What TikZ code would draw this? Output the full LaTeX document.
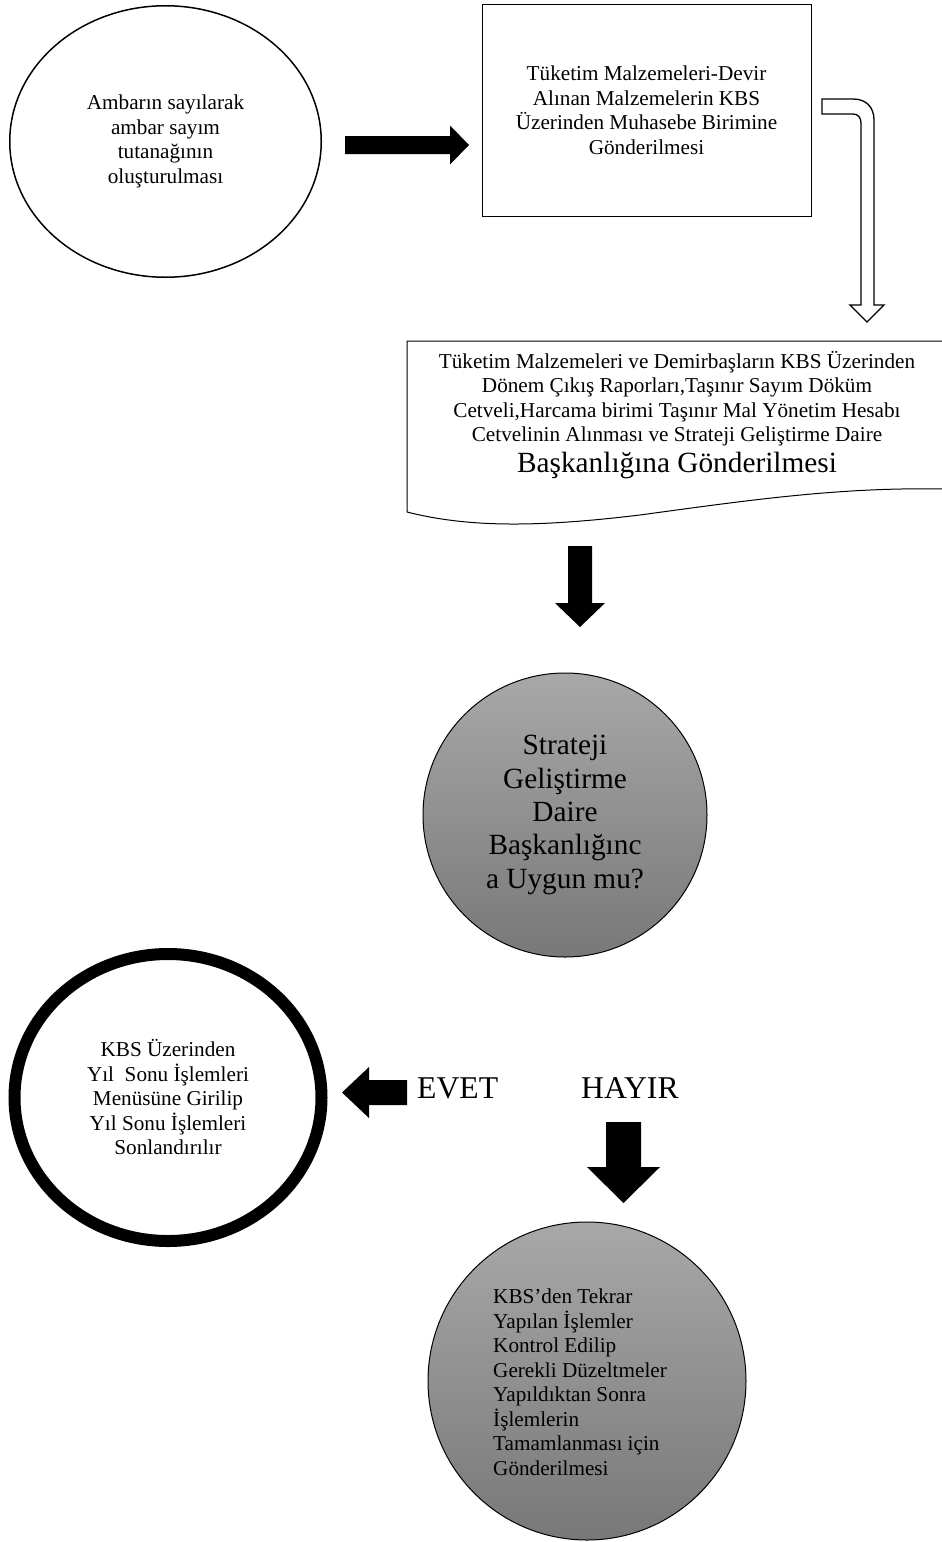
\documentclass[tikz,border=0pt]{standalone}
\usepackage{fontspec}
\setmainfont{Liberation Serif}
\usetikzlibrary{shapes.geometric}
\definecolor{grtop}{HTML}{A8A8A8}
\definecolor{grbot}{HTML}{787878}

\begin{document}
\begin{tikzpicture}[x=1pt, y=-1pt,
  every node/.style = {align=center, inner sep=0pt},
  txt/.style = {font=\fontsize{21.2}{24.5}\selectfont},
  bigtxt/.style = {font=\fontsize{29.3}{33.3}\selectfont},
  yesno/.style = {font=\fontsize{31.7}{36}\selectfont},
  oval/.style = {ellipse, draw, line width=1.5pt},
  thickoval/.style = {ellipse, draw, line width=12pt},
  box/.style = {rectangle, draw, line width=1pt},
  greyball/.style = {circle, draw, line width=1pt, top color=grtop, bottom color=grbot},
  fat/.style = {fill=black},
  hollow/.style = {draw, line width=1.3pt, line join=miter}]
  \useasboundingbox (0,0) rectangle (942,1542);

  % top row
  \node[oval, txt, minimum width=311.5pt, minimum height=271.5pt] (ambar) at (165.5,141.5)
    {Ambarın sayılarak\\ambar sayım\\tutanağının\\oluşturulması};
  \node[box, txt, minimum width=329pt, minimum height=212pt] (muhasebe) at (646.5,110)
    {Tüketim Malzemeleri-Devir\\Alınan Malzemelerin KBS\\Üzerinden Muhasebe Birimine\\Gönderilmesi};

  % document
  \draw[line width=1pt] (407,512) -- (407,341) -- (944,341) -- (944,489)
    .. controls (840,487) and (750,500) .. (640,515)
    .. controls (540,527) and (470,528) .. (407,512);
  \node[txt] (rapor) at (677,415)
    {Tüketim Malzemeleri ve Demirbaşların KBS Üzerinden\\
     Dönem Çıkış Raporları,Taşınır Sayım Döküm\\
     Cetveli,Harcama birimi Taşınır Mal Yönetim Hesabı\\
     Cetvelinin Alınması ve Strateji Geliştirme Daire\\[5.5pt]
     {\fontsize{29.3}{33}\selectfont Başkanlığına Gönderilmesi}};

  % decision
  \node[greyball, bigtxt, minimum size=284pt] (sgdb) at (565,815)
    {Strateji\\Geliştirme\\Daire\\Başkanlığınc\\a Uygun mu?};

  \node[thickoval, txt, minimum width=307pt, minimum height=287pt] (yilsonu) at (168,1097.5)
    {KBS Üzerinden\\Yıl~~Sonu İşlemleri\\Menüsüne Girilip\\Yıl Sonu İşlemleri\\Sonlandırılır};
  \node[yesno, anchor=base west] (evet) at (417,1098) {EVET};
  \node[yesno, anchor=base west] (hayir) at (581,1098) {HAYIR};

  \node[greyball, minimum size=318pt] (tekrar) at (587,1381) {};
  \node[txt, align=left, anchor=west] (tekrartxt) at (493,1382)
    {KBS’den Tekrar\\Yapılan İşlemler\\Kontrol Edilip\\Gerekli Düzeltmeler\\Yapıldıktan Sonra\\İşlemlerin\\Tamamlanması için\\Gönderilmesi};

  % block arrows
  \coordinate (a1) at (345,145);
  \coordinate (a2) at (580,546);
  \coordinate (a3) at (407,1092.5);
  \coordinate (a4) at (623.5,1122);
  \coordinate (h1) at (822,106.5);

  \fill[fat] (a1) ++(0,-9) -- ++(105,0) -- ++(0,-10.5) -- ++(19,19.5) -- ++(-19,19.5) -- ++(0,-10.5) -- ++(-105,0) -- cycle;
  \fill[fat] (a2) ++(-12,0) -- ++(0,57) -- ++(-13,0) -- ++(25,24) -- ++(25,-24) -- ++(-13,0) -- ++(0,-57) -- cycle;
  \fill[fat] (a3) ++(0,-12.5) -- ++(-38,0) -- ++(0,-13) -- ++(-27,25.5) -- ++(27,25.5) -- ++(0,-13) -- ++(38,0) -- cycle;
  \fill[fat] (a4) ++(-17.5,0) -- ++(0,45) -- ++(-19,0) -- ++(36.5,36) -- ++(36.5,-36) -- ++(-19,0) -- ++(0,-45) -- cycle;

  \draw[hollow] (h1) ++(0,-7.5) -- ++(31,0) .. controls +(13,0) and +(0,-13) .. ++(21,21)
    -- ++(0,185) -- ++(10,0) -- ++(-17,17) -- ++(-17,-17) -- ++(11,0) -- ++(0,-182)
    .. controls +(0,-5.5) and +(5,0) .. ++(-8,-9) -- ++(-31,0) -- cycle;
\end{tikzpicture}
\end{document}
